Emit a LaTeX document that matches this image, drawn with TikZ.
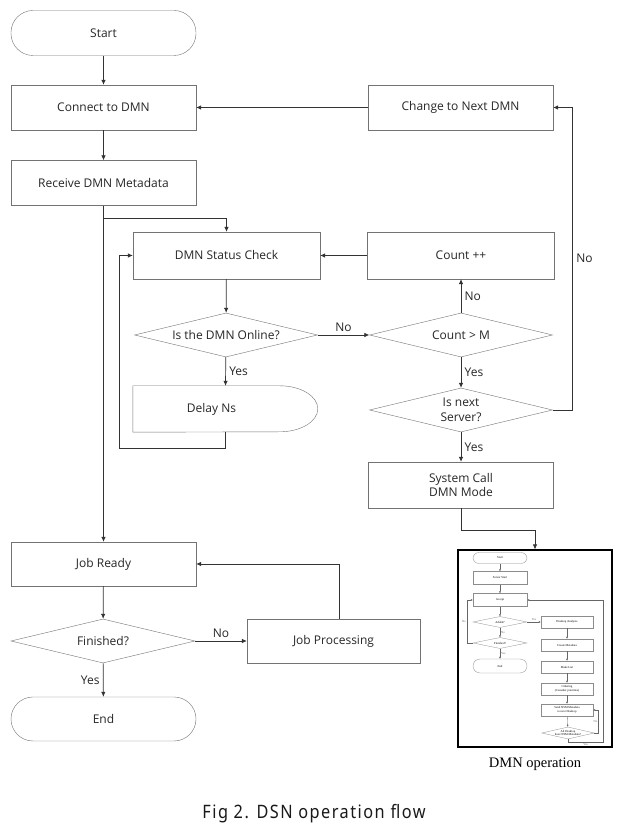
\documentclass[tikz,border=0pt]{standalone}
\usepackage{fontspec}
\setmainfont{Open Sans}
\newfontfamily\capfont[FakeStretch=0.88, LetterSpace=8]{Noto Sans}
\newfontfamily\minifont{Liberation Serif}
\usetikzlibrary{arrows.meta,shapes.geometric,positioning}

\begin{document}
\begin{tikzpicture}[
    x=1pt, y=1pt,
    font=\fontsize{12}{14.5}\selectfont,
    box/.style={draw=black!55, rectangle, align=center, text=black!85, minimum width=185pt, minimum height=45pt, inner sep=2pt},
    term/.style={box, rounded corners=22pt},
    dec/.style={draw=black!55, diamond, aspect=4.2, align=center, text=black!85, minimum width=183pt, minimum height=44pt, inner sep=0pt},
    arr/.style={-{Latex[length=5pt,width=4.5pt]}, black!80, line width=0.7pt},
    lbl/.style={text=black!85},
    mbox/.style={draw=black!45, rectangle, align=center, line width=0.3pt, minimum width=54pt, minimum height=13pt, inner sep=0.5pt, font=\minifont\fontsize{3}{3.6}\selectfont},
    mterm/.style={mbox, rounded corners=6pt},
    mdec/.style={draw=black!45, diamond, aspect=4.6, align=center, line width=0.3pt, minimum width=54pt, minimum height=11pt, inner sep=0pt, font=\minifont\fontsize{3}{3.6}\selectfont},
    marr/.style={-{Latex[length=2pt,width=1.8pt]}, black!60, line width=0.3pt},
    mlbl/.style={font=\minifont\fontsize{3}{3.6}\selectfont, inner sep=1pt}
  ]
    \useasboundingbox (0,0) rectangle (626,835);

    \node[term] (start) at (103.5,802) {Start};
    \node[box] (connect) at (103.5,727.5) {Connect to DMN};
    \node[box] (receive) at (103.5,652) {Receive DMN Metadata};
    \node[box] (change) at (460.5,727.5) {Change to Next DMN};
    \node[box, minimum width=187pt, minimum height=47pt] (status) at (226.5,579.5) {DMN Status Check};
    \node[box, minimum width=187pt, minimum height=47pt] (count) at (461,579.5) {Count ++};
    \node[dec] (online) at (226,500) {Is the DMN Online?};
    \node[dec] (countm) at (461,500) {Count {\textgreater} M};
    \node[dec] (isnext) at (461,425) {Is next\\Server?};
    \node[box, draw=none, minimum height=46pt] (delay) at (225.5,426) {\hspace*{-28pt}Delay Ns};
    \node[box, minimum height=46pt] (syscall) at (461,350) {System Call\\DMN Mode};
    \node[box, minimum height=44pt] (jobready) at (103.5,271) {Job Ready};
    \node[dec, minimum width=184pt] (finished) at (103,194) {Finished?};
    \node[box, minimum width=173pt, minimum height=44pt] (jobproc) at (333.5,194) {Job Processing};
    \node[term, minimum height=44pt] (end) at (103.5,116) {End};

    \draw[draw=black!55] (delay.north west) -- ++(147,0) arc[start angle=90, end angle=-90, x radius=38, y radius=23] -- (delay.south west) -- cycle;

    \draw[arr] (start) -- (connect);
    \draw[arr] (connect) -- (receive);
    \draw[arr] (change) -- (connect);
    \draw[arr] (receive) -- (jobready);
    \draw[arr] ([yshift=-12.5pt]receive.south) -| (status);
    \draw[arr] (status) -- (online);
    \draw[arr] (online) -- node[lbl, above] {No} (countm);
    \draw[arr] (countm) -- node[lbl, right] {No} (count);
    \draw[arr] (count) -- (status);
    \draw[arr] (countm) -- node[lbl, right] {Yes} (isnext);
    \draw[arr] (online) -- node[lbl, right] {Yes} (delay.north);
    \draw[arr] (delay.south) -- ++(0,-16) -| ([xshift=-13pt]status.west) -- (status.west);
    \draw[arr] (isnext.east) -- ++(20,0) |- node[lbl, right, pos=0.25] {No} (change.east);
    \draw[arr] (isnext) -- node[lbl, right] {Yes} (syscall);
    \draw[arr] (jobready) -- (finished);
    \draw[arr] (finished) -- node[lbl, above] {No} (jobproc);
    \draw[arr] (finished) -- node[lbl, left] {Yes} (end);
    \draw[arr] ([xshift=5.5pt]jobproc.north) |- (jobready.east);

    \node[draw=black, line width=1.1pt, minimum width=154pt, minimum height=197pt, inner sep=0pt] (dmnop) at (535,186.5) {};
    \node[font=\minifont\fontsize{14.5}{16}\selectfont, below=7pt of dmnop] (dmncap) {DMN operation};
    \draw[arr] (syscall.south) -- ++(0,-22) -| (dmnop.north);

    \node[mterm, minimum height=11pt] (mstart) at (500,277) {Start};
    \node[mbox] (mserver) at (500,257) {Server Start};
    \node[mbox] (maccept) at (500,235) {Accept};
    \node[mdec] (madded) at (500,213) {Added?};
    \node[mdec] (mfin) at (500,192) {Finished?};
    \node[mterm, minimum height=14pt, rounded corners=7pt] (mend) at (500,169) {End};
    \node[mbox, minimum width=52pt, minimum height=12pt] (mda) at (567,213) {Desktop Analysis};
    \node[mbox, minimum width=52pt, minimum height=12pt] (mcm) at (567,190) {Create Metadata};
    \node[mbox, minimum width=52pt, minimum height=12pt] (mml) at (567,168) {Make List};
    \node[mbox, minimum width=52pt, minimum height=12pt] (mord) at (567,146) {Ordering\\(Consider priorities)};
    \node[mbox, minimum width=52pt, minimum height=12pt] (msend) at (567,125) {Send NSM Metadata\\to next Desktop};
    \node[mdec, minimum width=52pt, minimum height=12pt] (mall) at (568,102) {All Desktop\\have NSM Metadata?};

    \draw[marr] (mstart) -- (mserver);
    \draw[marr] (mserver) -- (maccept);
    \draw[marr] (maccept) -- (madded);
    \draw[marr] (madded) -- node[mlbl, right] {No} (mfin);
    \draw[marr] (mfin) -- node[mlbl, right] {Yes} (mend);
    \draw[marr] (madded) -- node[mlbl, above] {Yes} (mda);
    \draw[marr] (mfin.west) -- ++(-6,0) |- node[mlbl, left, pos=0.25] {No} (maccept.west);
    \draw[marr] (mda) -- (mcm);
    \draw[marr] (mcm) -- (mml);
    \draw[marr] (mml) -- (mord);
    \draw[marr] (mord) -- (msend);
    \draw[marr] (msend) -- (mall);
    \draw[marr] (mall.east) -- ++(4,0) |- node[mlbl, left, pos=0.25] {No} (msend.east);
    \draw[marr] (mall.south) -- ++(0,-3) -| node[mlbl, below, pos=0.25] {Yes} ([xshift=76pt]maccept.east) -- (maccept.east);

    \node[font=\capfont\fontsize{18.5}{21}\selectfont, text=black!90] (caption) at (314,21) {Fig 2. DSN operation flow};
  \end{tikzpicture}
\end{document}
